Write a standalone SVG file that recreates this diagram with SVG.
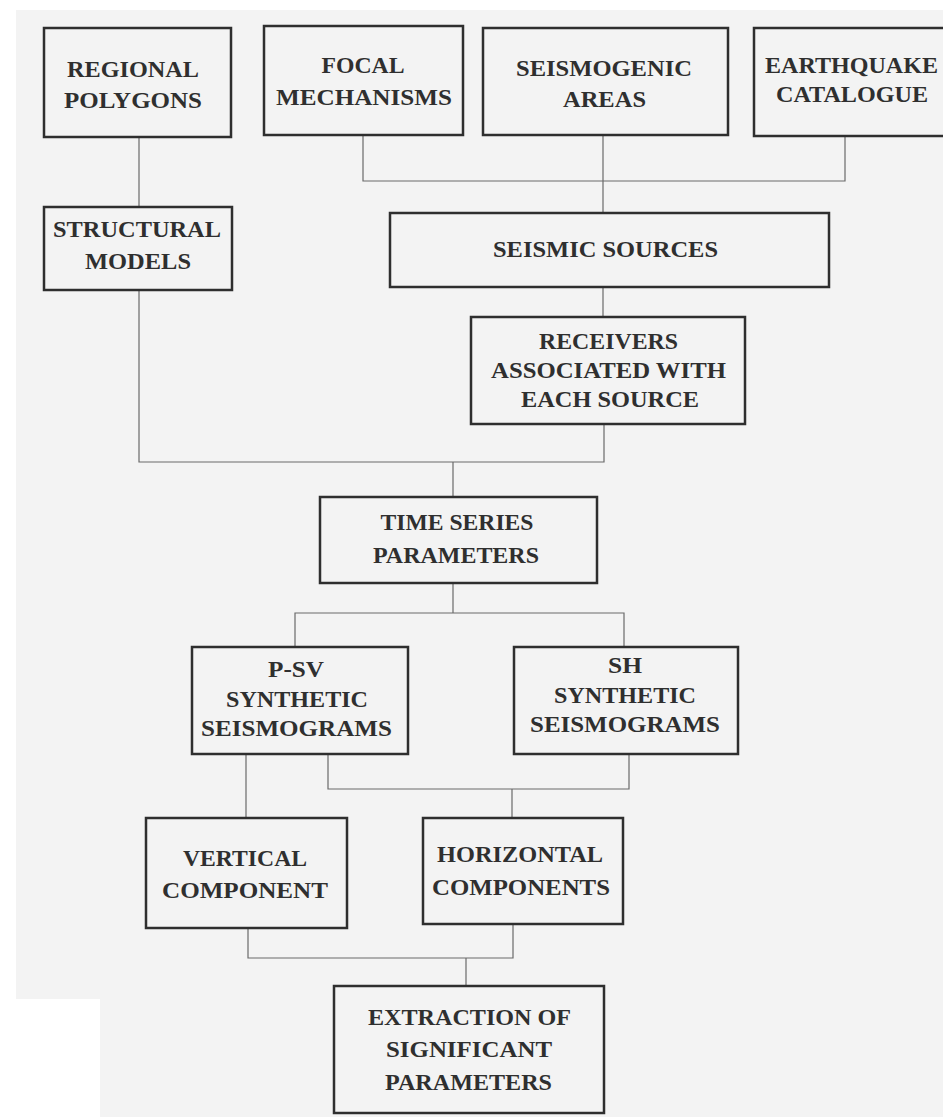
<svg xmlns="http://www.w3.org/2000/svg" width="943" height="1117" viewBox="0 0 943 1117">
<style>
.box{fill:none;stroke:#2e2e2e;stroke-width:2.5}
.c{fill:none;stroke:#6a6a6a;stroke-width:1.2}
text{font-family:"Liberation Serif","Times New Roman",serif;font-weight:bold;font-size:23px;fill:#2f2f2f;text-anchor:middle}
</style>
<rect x="0" y="0" width="943" height="1117" fill="#ffffff"/>
<path d="M16 10H943V1117H100V999H16Z" fill="#f3f3f3"/>
<g id="connectors">
<path class="c" d="M139 137V207"/>
<path class="c" d="M363 135V181H845V136"/>
<path class="c" d="M603 135V213"/>
<path class="c" d="M603 287V317"/>
<path class="c" d="M139 290V462H604V424"/>
<path class="c" d="M453 462V497"/>
<path class="c" d="M453 583V613"/>
<path class="c" d="M295 647V613H624V647"/>
<path class="c" d="M246 754V818"/>
<path class="c" d="M328 754V789H629V754"/>
<path class="c" d="M512 789V818"/>
<path class="c" d="M248 928V958H513V924"/>
<path class="c" d="M466 958V986"/>
</g>
<g id="regional">
<rect class="box" x="44" y="28" width="187" height="109"/>
<text x="133" y="77" textLength="132" lengthAdjust="spacingAndGlyphs">REGIONAL</text>
<text x="133" y="108" textLength="138" lengthAdjust="spacingAndGlyphs">POLYGONS</text>
</g>
<g id="focal">
<rect class="box" x="264" y="26" width="199" height="109"/>
<text x="363" y="73" textLength="83" lengthAdjust="spacingAndGlyphs">FOCAL</text>
<text x="364" y="105" textLength="176" lengthAdjust="spacingAndGlyphs">MECHANISMS</text>
</g>
<g id="seismogenic">
<rect class="box" x="483" y="28" width="245" height="107"/>
<text x="604" y="76" textLength="176" lengthAdjust="spacingAndGlyphs">SEISMOGENIC</text>
<text x="604.5" y="107" textLength="83" lengthAdjust="spacingAndGlyphs">AREAS</text>
</g>
<g id="catalogue">
<rect class="box" x="754" y="28" width="200" height="108"/>
<text x="851.5" y="73" textLength="173" lengthAdjust="spacingAndGlyphs">EARTHQUAKE</text>
<text x="852" y="102" textLength="152" lengthAdjust="spacingAndGlyphs">CATALOGUE</text>
</g>
<g id="structural">
<rect class="box" x="44" y="207" width="188" height="83"/>
<text x="137" y="237" textLength="168" lengthAdjust="spacingAndGlyphs">STRUCTURAL</text>
<text x="138" y="269" textLength="106" lengthAdjust="spacingAndGlyphs">MODELS</text>
</g>
<g id="sources">
<rect class="box" x="390" y="213" width="439" height="74"/>
<text x="605.5" y="257" textLength="225" lengthAdjust="spacingAndGlyphs">SEISMIC SOURCES</text>
</g>
<g id="receivers">
<rect class="box" x="471" y="317" width="274" height="107"/>
<text x="608.5" y="349" textLength="139" lengthAdjust="spacingAndGlyphs">RECEIVERS</text>
<text x="608.5" y="378" textLength="235" lengthAdjust="spacingAndGlyphs">ASSOCIATED WITH</text>
<text x="610" y="407" textLength="178" lengthAdjust="spacingAndGlyphs">EACH SOURCE</text>
</g>
<g id="timeseries">
<rect class="box" x="320" y="497" width="277" height="86"/>
<text x="457" y="530" textLength="153" lengthAdjust="spacingAndGlyphs">TIME SERIES</text>
<text x="456" y="563" textLength="166" lengthAdjust="spacingAndGlyphs">PARAMETERS</text>
</g>
<g id="psv">
<rect class="box" x="192" y="647" width="216" height="107"/>
<text x="296" y="677" textLength="56" lengthAdjust="spacingAndGlyphs">P-SV</text>
<text x="297" y="707" textLength="142" lengthAdjust="spacingAndGlyphs">SYNTHETIC</text>
<text x="296.5" y="736" textLength="191" lengthAdjust="spacingAndGlyphs">SEISMOGRAMS</text>
</g>
<g id="sh">
<rect class="box" x="514" y="647" width="224" height="107"/>
<text x="625" y="673" textLength="34" lengthAdjust="spacingAndGlyphs">SH</text>
<text x="625" y="703" textLength="142" lengthAdjust="spacingAndGlyphs">SYNTHETIC</text>
<text x="625" y="732" textLength="190" lengthAdjust="spacingAndGlyphs">SEISMOGRAMS</text>
</g>
<g id="vertical">
<rect class="box" x="146" y="818" width="201" height="110"/>
<text x="245" y="866" textLength="124" lengthAdjust="spacingAndGlyphs">VERTICAL</text>
<text x="245" y="898" textLength="166" lengthAdjust="spacingAndGlyphs">COMPONENT</text>
</g>
<g id="horizontal">
<rect class="box" x="423" y="818" width="200" height="106"/>
<text x="520" y="862" textLength="166" lengthAdjust="spacingAndGlyphs">HORIZONTAL</text>
<text x="521" y="895" textLength="178" lengthAdjust="spacingAndGlyphs">COMPONENTS</text>
</g>
<g id="extraction">
<rect class="box" x="334" y="986" width="270" height="127"/>
<text x="469.5" y="1025" textLength="203" lengthAdjust="spacingAndGlyphs">EXTRACTION OF</text>
<text x="469" y="1057" textLength="166" lengthAdjust="spacingAndGlyphs">SIGNIFICANT</text>
<text x="468.5" y="1090" textLength="167" lengthAdjust="spacingAndGlyphs">PARAMETERS</text>
</g>
</svg>
